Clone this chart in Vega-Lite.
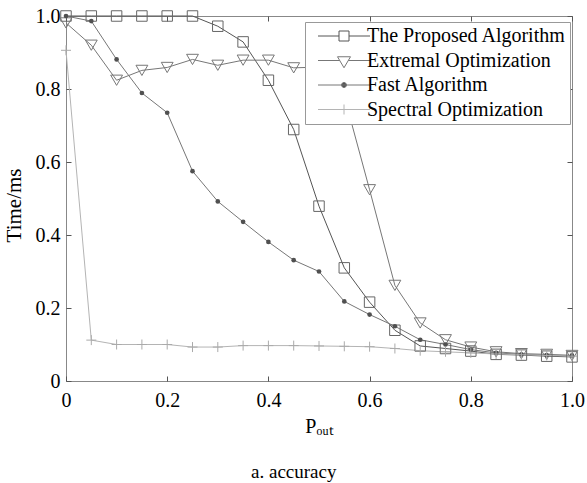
{
  "$schema": "https://vega.github.io/schema/vega-lite/v6.json",
  "width": 506,
  "height": 365,
  "autosize": "none",
  "padding": {"left": 66, "top": 16, "right": 15, "bottom": 102},
  "background": "white",
  "config": {
    "view": {"stroke": "#888", "strokeWidth": 1},
    "font": "Liberation Serif",
    "axis": {"grid": false, "domain": false}
  },
  "title": {
    "text": "a. accuracy",
    "orient": "bottom",
    "anchor": "middle",
    "frame": "bounds",
    "font": "Liberation Serif",
    "fontSize": 19,
    "fontWeight": "normal",
    "color": "#000",
    "offset": 27
  },
  "data": {
    "values": [
      {"x": 0, "P": 1.0, "E": 0.981, "F": 1.0, "S": 0.906},
      {"x": 0.05, "P": 1.0, "E": 0.92, "F": 0.986, "S": 0.112},
      {"x": 0.1, "P": 1.0, "E": 0.824, "F": 0.881, "S": 0.1},
      {"x": 0.15, "P": 1.0, "E": 0.851, "F": 0.789, "S": 0.1},
      {"x": 0.2, "P": 1.0, "E": 0.859, "F": 0.735, "S": 0.1},
      {"x": 0.25, "P": 1.0, "E": 0.881, "F": 0.575, "S": 0.093},
      {"x": 0.3, "P": 0.972, "E": 0.865, "F": 0.492, "S": 0.093},
      {"x": 0.35, "P": 0.929, "E": 0.879, "F": 0.436, "S": 0.097},
      {"x": 0.4, "P": 0.824, "E": 0.879, "F": 0.381, "S": 0.097},
      {"x": 0.45, "P": 0.689, "E": 0.858, "F": 0.331, "S": 0.097},
      {"x": 0.5, "P": 0.479, "E": 0.86, "F": 0.3, "S": 0.096},
      {"x": 0.55, "P": 0.31, "E": 0.78, "F": 0.218, "S": 0.095},
      {"x": 0.6, "P": 0.216, "E": 0.524, "F": 0.182, "S": 0.094},
      {"x": 0.65, "P": 0.139, "E": 0.262, "F": 0.15, "S": 0.089},
      {"x": 0.7, "P": 0.096, "E": 0.159, "F": 0.113, "S": 0.083},
      {"x": 0.75, "P": 0.089, "E": 0.113, "F": 0.1, "S": 0.08},
      {"x": 0.8, "P": 0.082, "E": 0.093, "F": 0.086, "S": 0.077},
      {"x": 0.85, "P": 0.073, "E": 0.08, "F": 0.077, "S": 0.074},
      {"x": 0.9, "P": 0.071, "E": 0.075, "F": 0.073, "S": 0.072},
      {"x": 0.95, "P": 0.068, "E": 0.073, "F": 0.071, "S": 0.07},
      {"x": 1.0, "P": 0.066, "E": 0.07, "F": 0.07, "S": 0.068}
    ]
  },
  "transform": [{"fold": ["P", "E", "F", "S"], "as": ["series", "y"]}],
  "layer": [
    {
      "mark": {"type": "line", "strokeWidth": 1},
      "encoding": {
        "x": {
          "field": "x", "type": "quantitative",
          "scale": {"domain": [0, 1], "nice": false},
          "axis": {
            "orient": "bottom",
            "values": [0, 0.2, 0.4, 0.6, 0.8, 1],
            "labelExpr": "datum.value == 0 ? '0' : format(datum.value, '.1f')",
            "labelFlush": false,
            "labelFont": "Liberation Serif",
            "labelFontSize": 20,
            "labelColor": "#000",
            "labelPadding": 14,
            "tickSize": -5,
            "tickColor": "#555",
            "title": "Pₒᵤₜ",
            "titleFont": "Liberation Serif",
            "titleFontSize": 20,
            "titleFontWeight": "normal",
            "titleColor": "#000",
            "titlePadding": 6
          }
        },
        "y": {
          "field": "y", "type": "quantitative",
          "scale": {"domain": [0, 1], "nice": false},
          "axis": {
            "orient": "left",
            "values": [0, 0.2, 0.4, 0.6, 0.8, 1],
            "labelExpr": "datum.value == 0 ? '0' : format(datum.value, '.1f')",
            "labelFlush": false,
            "labelFont": "Liberation Serif",
            "labelFontSize": 20,
            "labelColor": "#000",
            "labelPadding": 11,
            "tickSize": -5,
            "tickColor": "#555",
            "title": "Time/ms",
            "titleFont": "Liberation Serif",
            "titleFontSize": 21,
            "titleFontWeight": "normal",
            "titleColor": "#000",
            "titlePadding": 11,
            "titleY": 189
          }
        },
        "stroke": {
          "field": "series", "type": "nominal",
          "scale": {"domain": ["P", "E", "F", "S"], "range": ["#555", "#777", "#777", "#b4b4b4"]}
        }
      }
    },
    {
      "transform": [{"filter": "datum.series == 'P'"}],
      "mark": {"type": "point", "shape": "square", "size": 110, "filled": false, "stroke": "#666", "strokeWidth": 1, "opacity": 1},
      "encoding": {
        "x": {
          "field": "x", "type": "quantitative",
          "axis": {"orient": "top", "labels": false, "title": null, "tickSize": -5, "tickColor": "#555", "values": [0, 0.2, 0.4, 0.6, 0.8, 1]}
        },
        "y": {
          "field": "y", "type": "quantitative",
          "axis": {"orient": "right", "labels": false, "title": null, "tickSize": -5, "tickColor": "#555", "values": [0, 0.2, 0.4, 0.6, 0.8, 1]}
        }
      }
    },
    {
      "transform": [{"filter": "datum.series == 'E'"}],
      "mark": {"type": "point", "shape": "triangle-down", "size": 140, "filled": false, "stroke": "#777", "strokeWidth": 1, "opacity": 1},
      "encoding": {
        "x": {"field": "x", "type": "quantitative", "axis": null},
        "y": {"field": "y", "type": "quantitative", "axis": null}
      }
    },
    {
      "transform": [{"filter": "datum.series == 'F'"}],
      "mark": {"type": "point", "shape": "circle", "size": 22, "filled": true, "fill": "#505050", "strokeWidth": 0, "opacity": 1},
      "encoding": {
        "x": {"field": "x", "type": "quantitative", "axis": null},
        "y": {"field": "y", "type": "quantitative", "axis": null}
      }
    },
    {
      "transform": [{"filter": "datum.series == 'S'"}],
      "mark": {"type": "point", "shape": "M-1,0L1,0M0,-1L0,1", "size": 100, "filled": false, "stroke": "#aaa", "strokeWidth": 1, "opacity": 1},
      "encoding": {
        "x": {"field": "x", "type": "quantitative", "axis": null},
        "y": {"field": "y", "type": "quantitative", "axis": null}
      }
    },
    {
      "transform": [{"filter": "false"}],
      "mark": {"type": "point", "filled": false, "strokeWidth": 1, "opacity": 1},
      "encoding": {
        "stroke": {
          "field": "series", "type": "nominal",
          "legend": {
            "orient": "none",
            "legendX": 239,
            "legendY": 6,
            "title": null,
            "labelExpr": "datum.value == 'P' ? 'The Proposed Algorithm' : datum.value == 'E' ? 'Extremal Optimization' : datum.value == 'F' ? 'Fast Algorithm' : 'Spectral Optimization'",
            "labelFont": "Liberation Serif",
            "labelFontSize": 20,
            "labelColor": "#000",
            "labelLimit": 400,
            "strokeColor": "#999",
            "fillColor": "#fff",
            "padding": 4,
            "rowPadding": 4.5,
            "symbolOffset": 25,
            "labelOffset": 13,
            "symbolStrokeWidth": 1,
            "symbolOpacity": 1
          }
        },
        "shape": {
          "field": "series", "type": "nominal",
          "scale": {"domain": ["P", "E", "F", "S"], "range": ["M-5.2,0L-1,0M1,0L5.2,0M-1,-1L1,-1L1,1L-1,1Z", "M-5.2,0L-0.86,0M0.86,0L5.2,0M-1.3,-0.75L1.3,-0.75L0,1.45Z", "M-5.2,0L5.2,0M0.5,0A0.5,0.5,0,1,1,-0.5,0A0.5,0.5,0,1,1,0.5,0Z", "M-5.2,0L5.2,0M0,-1L0,1"]}
        },
        "fill": {
          "field": "series", "type": "nominal",
          "scale": {"domain": ["P", "E", "F", "S"], "range": ["transparent", "transparent", "#505050", "transparent"]}
        },
        "size": {
          "field": "series", "type": "nominal",
          "scale": {"type": "ordinal", "domain": ["P", "E", "F", "S"], "range": [100, 100, 100, 100]}
        }
      }
    }
  ],
  "resolve": {"axis": {"x": "independent", "y": "independent"}}
}
